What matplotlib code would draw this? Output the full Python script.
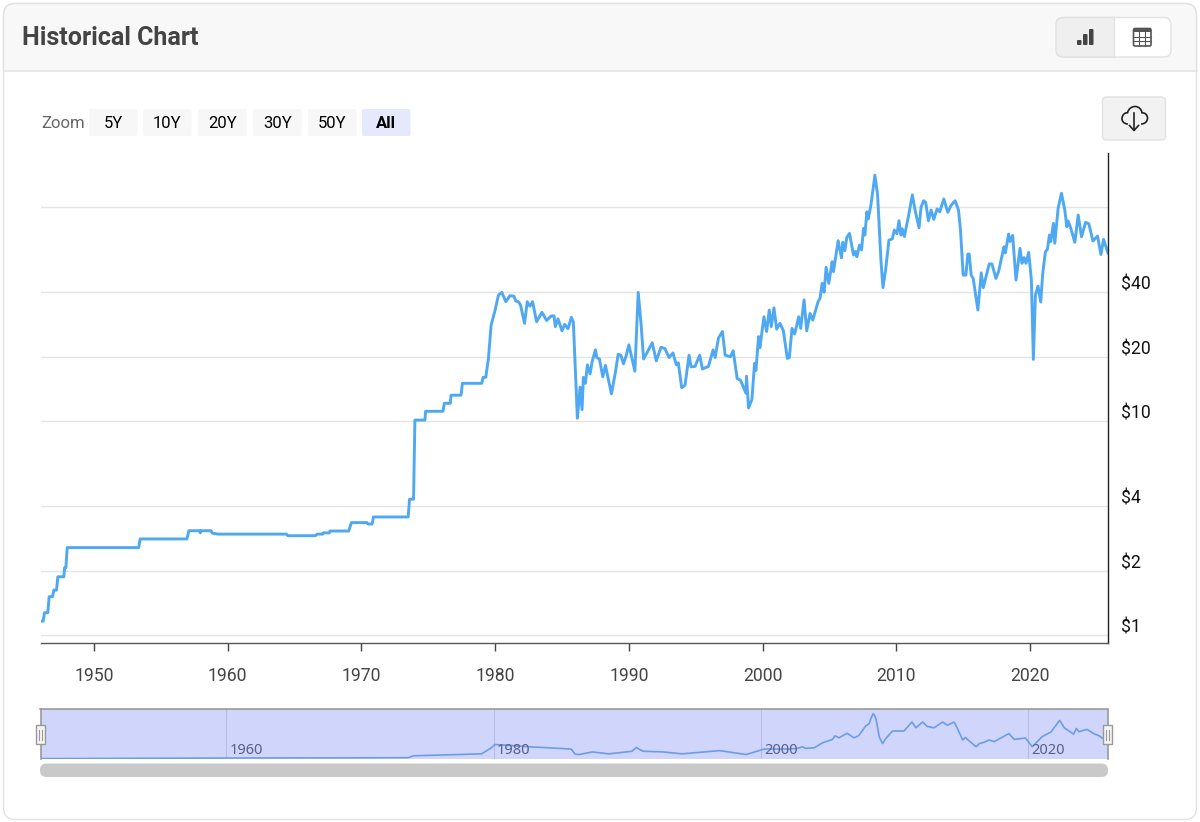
import matplotlib
matplotlib.use('Agg')
import matplotlib.pyplot as plt
from matplotlib.patches import FancyBboxPatch, Rectangle, PathPatch
from matplotlib.path import Path
from matplotlib.transforms import ScaledTranslation

plt.rcParams['font.family'] = ['Roboto', 'DejaVu Sans']

# price per year
early_years = [1946.05, 1946.2, 1946.3, 1946.55, 1946.65, 1946.9, 1947.0, 1947.2, 1947.3, 1947.75, 1947.8, 1947.9,
               1948.0, 1953.35, 1953.45, 1956.95, 1957.1, 1957.9, 1957.95, 1958.0, 1958.75, 1958.85, 1959.3,
               1964.4, 1964.5, 1966.55, 1966.7, 1967.1, 1967.15, 1967.6, 1967.65, 1969.05, 1969.25, 1970.4,
               1970.5, 1970.8, 1970.9, 1973.5, 1973.6, 1973.9, 1974.0, 1974.75, 1974.8, 1976.1, 1976.2,
               1976.65, 1976.7, 1977.45, 1977.55, 1979.0, 1979.1, 1979.3]
early_prices = [1.16, 1.16, 1.27, 1.27, 1.51, 1.51, 1.62, 1.62, 1.87, 1.87, 2.06, 2.06,
                2.56, 2.56, 2.81, 2.81, 3.07, 3.07, 3.0, 3.07, 3.07, 2.99, 2.96,
                2.96, 2.91, 2.91, 2.96, 2.96, 3.0, 3.0, 3.06, 3.06, 3.35, 3.35,
                3.30, 3.30, 3.56, 3.56, 4.31, 4.31, 10.1, 10.1, 11.1, 11.1, 12.1,
                12.1, 13.2, 13.2, 15.0, 15.0, 16.0, 16.0]

mid_years = [1979.5, 1979.7, 1980.0, 1980.25, 1980.5, 1980.8, 1981.1, 1981.4, 1981.55, 1981.75, 1981.9, 1982.2,
             1982.4, 1982.6, 1982.8, 1983.1, 1983.5, 1983.85, 1984.2, 1984.4, 1984.5, 1984.7, 1985.0, 1985.2,
             1985.45, 1985.7, 1985.85, 1986.0, 1986.15, 1986.35, 1986.5, 1986.6, 1986.75, 1986.9, 1987.1,
             1987.25, 1987.5, 1987.6, 1987.8, 1988.05, 1988.25, 1988.5, 1988.7, 1989.0, 1989.2, 1989.4, 1989.6,
             1989.8, 1990.0, 1990.45, 1990.7, 1990.9, 1991.1, 1991.35, 1991.75, 1992.05, 1992.4, 1992.7, 1993.0,
             1993.3, 1993.55, 1993.7, 1993.95, 1994.2, 1994.5, 1994.65, 1994.95, 1995.3, 1995.5, 1995.95,
             1996.3, 1996.45, 1996.7, 1997.0, 1997.2, 1997.6, 1997.8, 1998.1, 1998.35, 1998.75, 1998.8, 1998.95,
             1999.2, 1999.4, 1999.5, 1999.7, 1999.8, 2000.1, 2000.3, 2000.5, 2000.65, 2000.85, 2001.05]
mid_prices = [19.6, 28.1, 33.0, 38.8, 39.9, 36.1, 38.5, 38.3, 36.4, 36.0, 34.8, 28.6,
              36.1, 34.4, 36.1, 29.1, 32.2, 29.5, 31.0, 31.0, 27.6, 30.0, 26.4, 28.3,
              27.0, 30.5, 29.0, 17.3, 10.3, 14.4, 11.3, 16.0, 15.0, 18.3, 16.6,
              18.9, 21.5, 19.8, 19.5, 16.1, 18.2, 15.3, 13.4, 17.0, 20.5, 20.3, 18.5,
              20.2, 22.7, 17.1, 39.9, 29.1, 19.5, 20.8, 23.2, 19.1, 22.1, 21.8, 19.8,
              20.8, 18.3, 18.7, 14.3, 14.7, 20.3, 17.9, 18.0, 20.3, 17.5, 18.0,
              21.5, 19.8, 24.4, 26.2, 20.3, 20.0, 21.3, 15.8, 15.5, 13.5, 16.2, 11.5,
              12.6, 18.6, 17.2, 24.8, 22.0, 30.7, 26.2, 33.0, 27.6, 33.8, 26.9]

late_years = [2001.3, 2001.55, 2001.85, 2002.0, 2002.2, 2002.4, 2002.7, 2002.85, 2003.1, 2003.3, 2003.55, 2003.75,
              2004.15, 2004.3, 2004.45, 2004.6, 2004.75, 2004.95, 2005.2, 2005.3, 2005.65, 2005.9, 2006.0, 2006.15,
              2006.3, 2006.5, 2006.8, 2006.95, 2007.05, 2007.25, 2007.4, 2007.55, 2007.65, 2007.8, 2007.9, 2008.1,
              2008.4, 2008.6, 2008.85, 2009.0, 2009.2, 2009.45, 2009.7, 2009.85, 2010.05, 2010.2, 2010.35, 2010.45,
              2010.6, 2010.9, 2011.2, 2011.4, 2011.7, 2011.85, 2012.05, 2012.2, 2012.4, 2012.6, 2012.8, 2013.05,
              2013.25, 2013.55, 2013.85, 2014.1, 2014.4, 2014.65, 2014.8, 2015.0, 2015.2, 2015.35, 2015.45, 2015.6,
              2015.75, 2016.1, 2016.35, 2016.5, 2016.7, 2016.95, 2017.15, 2017.45, 2017.65, 2018.05, 2018.15, 2018.4,
              2018.5, 2018.7, 2018.95, 2019.25, 2019.4, 2019.55, 2019.7, 2019.9, 2020.1, 2020.25, 2020.4, 2020.6,
              2020.8, 2020.95, 2021.15, 2021.3, 2021.45, 2021.55, 2021.75, 2021.85, 2022.1, 2022.35, 2022.6, 2022.75,
              2022.85, 2023.05, 2023.35, 2023.6, 2023.85, 2024.15, 2024.4, 2024.7, 2025.05, 2025.3, 2025.5, 2025.83]
late_prices = [28.6, 26.5, 19.6, 19.8, 27.1, 25.5, 30.7, 27.1, 36.8, 26.4, 31.8, 29.6,
               36.1, 37.5, 44.0, 40.0, 52.3, 44.0, 55.5, 49.9, 69.6, 57.9, 68.4, 62.5,
               72.2, 75.3, 59.7, 62.0, 58.6, 66.4, 63.0, 79.5, 74.0, 95.0, 88.0, 102,
               141, 114, 56.5, 42.0, 50.8, 70.1, 71.0, 78.1, 75.0, 86.3, 74.0, 79.0,
               72.8, 90.0, 114, 96.8, 80.0, 100, 107, 105, 86.3, 96.8, 87.6, 98.0,
               95.0, 109, 94.5, 102, 107, 96.8, 78.0, 48.1, 48.1, 60.3, 60.3, 48.0,
               46.4, 33.0, 49.3, 42.0, 47.0, 54.2, 54.2, 46.4, 50.0, 65.2, 61.0, 74.8,
               69.0, 73.7, 45.6, 64.1, 54.6, 58.0, 54.6, 61.4, 45.6, 19.4, 38.8, 42.7,
               36.0, 49.0, 61.8, 63.5, 74.0, 69.0, 83.9, 67.7, 98.6, 116, 96.8, 80.9,
               86.0, 79.5, 68.4, 91.8, 72.6, 84.8, 83.5, 69.4, 73.2, 60.0, 70.6, 61.0]

years = early_years + mid_years + late_years
prices = early_prices + mid_prices + late_prices

# smoothed series in the navigator strip
nav_years = [1946.05, 1960, 1973.5, 1973.9, 1979.0, 1979.7, 1980.0, 1982.6, 1985.7, 1986.0, 1986.3, 1987.3, 1988.5,
             1990.25, 1990.45, 1990.6, 1990.8, 1991.1, 1992.6, 1994.0, 1996.8, 1998.8, 2000.15, 2002.0, 2002.65, 2003.0,
             2003.25, 2003.9, 2004.5, 2005.25, 2005.45, 2005.75, 2006.35, 2006.85, 2007.2, 2007.75, 2008.0, 2008.15,
             2008.3, 2008.45, 2008.55, 2008.75, 2009.0, 2009.25, 2009.75, 2010.6, 2011.2, 2011.5, 2012.0, 2012.35,
             2012.85, 2013.5, 2013.85, 2014.35, 2014.6, 2015.0, 2015.2, 2015.4, 2016.0, 2016.25, 2016.6, 2016.95,
             2017.35, 2018.45, 2018.85, 2019.7, 2020.2, 2020.95, 2021.6, 2022.25, 2022.6, 2023.3, 2023.5, 2023.7,
             2024.3, 2024.8, 2025.2, 2025.83]
nav_prices = [1.2, 3, 4, 10, 16, 34, 45, 38, 31, 15, 14, 22, 16,
              24, 31, 36, 30, 24, 22, 16, 26, 14, 31, 31, 33, 38,
              33, 35, 50, 61, 72, 66, 80, 66, 72, 103, 110, 128,
              141, 132, 116, 69, 48, 64, 87, 87, 115, 97, 115, 101,
              97, 115, 105, 115, 95, 59, 67, 59, 38, 48, 52, 59,
              54, 79, 61, 65, 38, 70, 84, 120, 97, 77, 95, 85,
              92, 79, 72, 54]

y_ticks = [1, 2, 4, 10, 20, 40, 100]
y_tick_labels = ['$1', '$2', '$4', '$10', '$20', '$40', '']
x_ticks = [1950, 1960, 1970, 1980, 1990, 2000, 2010, 2020]
nav_ticks = [1960, 1980, 2000, 2020]
zoom_labels = ['5Y', '10Y', '20Y', '30Y', '50Y', 'All']
zoom_left = [89, 143, 198, 253, 308, 362]

W, H = 1200, 822
fig = plt.figure(figsize=(W / 100, H / 100), dpi=100, facecolor='white')


def axes_px(left, top, right, bottom, **kw):
    return fig.add_axes([left / W, 1 - bottom / H, (right - left) / W, (bottom - top) / H], **kw)


# page furniture, drawn in pixel coordinates
bg = axes_px(0, 0, W, H)
bg.set_xlim(0, W)
bg.set_ylim(H, 0)
bg.axis('off')

bg.add_patch(FancyBboxPatch((3.5, 3.5), 1193, 816, boxstyle='round,pad=0,rounding_size=12',
                            fc='white', ec='#e2e2e2', lw=1))
header = FancyBboxPatch((3.5, 3.5), 1193, 90, boxstyle='round,pad=0,rounding_size=12',
                        fc='#f8f8f8', ec='#e2e2e2', lw=1)
bg.add_patch(header)
header.set_clip_path(Rectangle((0, 0), W, 71, transform=bg.transData))
bg.plot([3.5, 1196.5], [71, 71], color='#e4e4e4', lw=1.2)
bg.text(22, 38, 'Historical Chart', fontsize=18, fontweight='bold', color='#444444', va='center')

# chart / table toggle
bg.add_patch(FancyBboxPatch((1056, 17.5), 115, 39.5, boxstyle='round,pad=0,rounding_size=7',
                            fc='white', ec='#e2e2e2', lw=1))
left_half = FancyBboxPatch((1056, 17.5), 115, 39.5, boxstyle='round,pad=0,rounding_size=7',
                           fc='#efefef', ec='#e2e2e2', lw=1)
bg.add_patch(left_half)
left_half.set_clip_path(Rectangle((1056, 0), 58, 80, transform=bg.transData))
bg.plot([1113.5, 1113.5], [17.5, 57], color='#e2e2e2', lw=1)
for bx, by in [(1077, 40), (1083, 34), (1089, 29)]:
    bg.add_patch(FancyBboxPatch((bx, by), 4.5, 45 - by, boxstyle='round,pad=0,rounding_size=1',
                                fc='#444444', ec='none'))
bg.add_patch(FancyBboxPatch((1133.5, 28.5), 17.5, 17.5, boxstyle='round,pad=0,rounding_size=1.5',
                            fc='white', ec='#555555', lw=1.2))
bg.add_patch(Rectangle((1133.5, 28.5), 17.5, 4, fc='#555555', ec='none'))
for gx in [1139.3, 1145.1]:
    bg.plot([gx, gx], [32, 46], color='#555555', lw=0.8)
for gy in [37, 41.5]:
    bg.plot([1133.5, 1151], [gy, gy], color='#555555', lw=0.8)

# zoom buttons
bg.text(41, 123, 'Zoom', fontsize=12, color='#666666', va='center')
for lab, bx in zip(zoom_labels, zoom_left):
    active = lab == 'All'
    bg.add_patch(FancyBboxPatch((bx, 109), 48.5, 27, boxstyle='round,pad=0,rounding_size=2',
                                fc='#e6e9fb' if active else '#f7f7f7', ec='none'))
    bg.text(bx + 24.2, 123, lab, fontsize=12, ha='center', va='center', color='black',
            fontweight='bold' if active else 'normal')

# download button
bg.add_patch(FancyBboxPatch((1102.5, 97), 63, 43, boxstyle='round,pad=0,rounding_size=4',
                            fc='#f2f2f2', ec='#e2e2e2', lw=1))
cloud_pts = [(1128, 124), (1123.5, 124), (1121.5, 120.5), (1122, 118), (1122.5, 114.5), (1125, 112.5), (1127.5, 112.8),
             (1128.5, 108.5), (1132, 106.5), (1135, 106.5), (1139, 106.5), (1141.5, 109.5), (1142, 112.8),
             (1145.5, 112.5), (1147.5, 115.5), (1147.5, 118), (1147.5, 121.5), (1145, 124), (1141, 124)]
cloud_codes = [Path.MOVETO] + [Path.CURVE4] * 18
bg.add_patch(PathPatch(Path(cloud_pts, cloud_codes), fc='none', ec='#222222', lw=1.2))
bg.plot([1134, 1134], [113, 130], color='#222222', lw=1.2)
bg.plot([1129.5, 1134, 1138.5], [125.5, 130.5, 125.5], color='#222222', lw=1.2)

# main chart
ax = axes_px(41, 153, 1108, 643, facecolor='none')
ax.set_yscale('log')
ax.set_xlim(1946.04, 2025.83)
ax.set_ylim(0.917, 178.9)
for side in ['top', 'left']:
    ax.spines[side].set_visible(False)
ax.spines['bottom'].set_color('#555555')
ax.spines['bottom'].set_linewidth(1)
ax.spines['right'].set_color('#222222')
ax.spines['right'].set_linewidth(1)
ax.grid(axis='y', color='#e4e4e4', lw=1)
ax.set_axisbelow(True)
ax.set_xticks(x_ticks)
ax.set_xticklabels([str(y) for y in x_ticks])
ax.minorticks_off()
ax.set_yticks(y_ticks)
ax.set_yticklabels(y_tick_labels)
ax.yaxis.set_ticks_position('right')
ax.tick_params(axis='x', length=5.5, width=1, color='#444444', labelsize=12.7, labelcolor='#444444', pad=12)
ax.tick_params(axis='y', which='both', length=0, labelsize=12.7, labelcolor='#111111', pad=9)
for lab in ax.get_yticklabels():
    lab.set_transform(lab.get_transform() + ScaledTranslation(0, 6.8 / 72, fig.dpi_scale_trans))
ax.plot(years, prices, color='#4fa8f2', lw=2.1, solid_joinstyle='round')

# navigator strip
nav = axes_px(40.5, 708.5, 1107.5, 759, facecolor='#d0d6fb')
nav.set_xlim(1946.0, 2025.83)
nav.set_ylim(0, 157)
for side in ['bottom']:
    nav.spines[side].set_visible(False)
for side in ['top', 'left', 'right']:
    nav.spines[side].set_color('#9a9a9a')
    nav.spines[side].set_linewidth(1.2)
nav.set_xticks([])
nav.set_yticks([])
for yr in nav_ticks:
    nav.axvline(yr - 0.1, color='#b6bce6', lw=0.8)
nav.plot(nav_years, nav_prices, color='#6d9ce6', lw=1.2, solid_joinstyle='round')
for yr in nav_ticks:
    nav.annotate(str(yr), (yr - 0.1, 0), xytext=(2.5, 6), textcoords='offset points',
                 fontsize=10.5, color='#5b5f86', va='center', family=['Noto Sans', 'DejaVu Sans'])

# scrollbar and handles on top
fg = axes_px(0, 0, W, H, facecolor='none')
fg.set_xlim(0, W)
fg.set_ylim(H, 0)
fg.axis('off')
fg.add_patch(FancyBboxPatch((40, 763.5), 1068, 13.5, boxstyle='round,pad=0,rounding_size=6.5',
                            fc='#c9c9c9', ec='none'))
for hx in [40.5, 1107.5]:
    fg.add_patch(Rectangle((hx - 4.5, 725), 9, 19, fc='#f4f4f4', ec='#999999', lw=1))
    fg.plot([hx - 1.2, hx - 1.2], [729.5, 739.5], color='#999999', lw=0.8)
    fg.plot([hx + 1.2, hx + 1.2], [729.5, 739.5], color='#999999', lw=0.8)

fig.savefig('out.png', dpi=100)
